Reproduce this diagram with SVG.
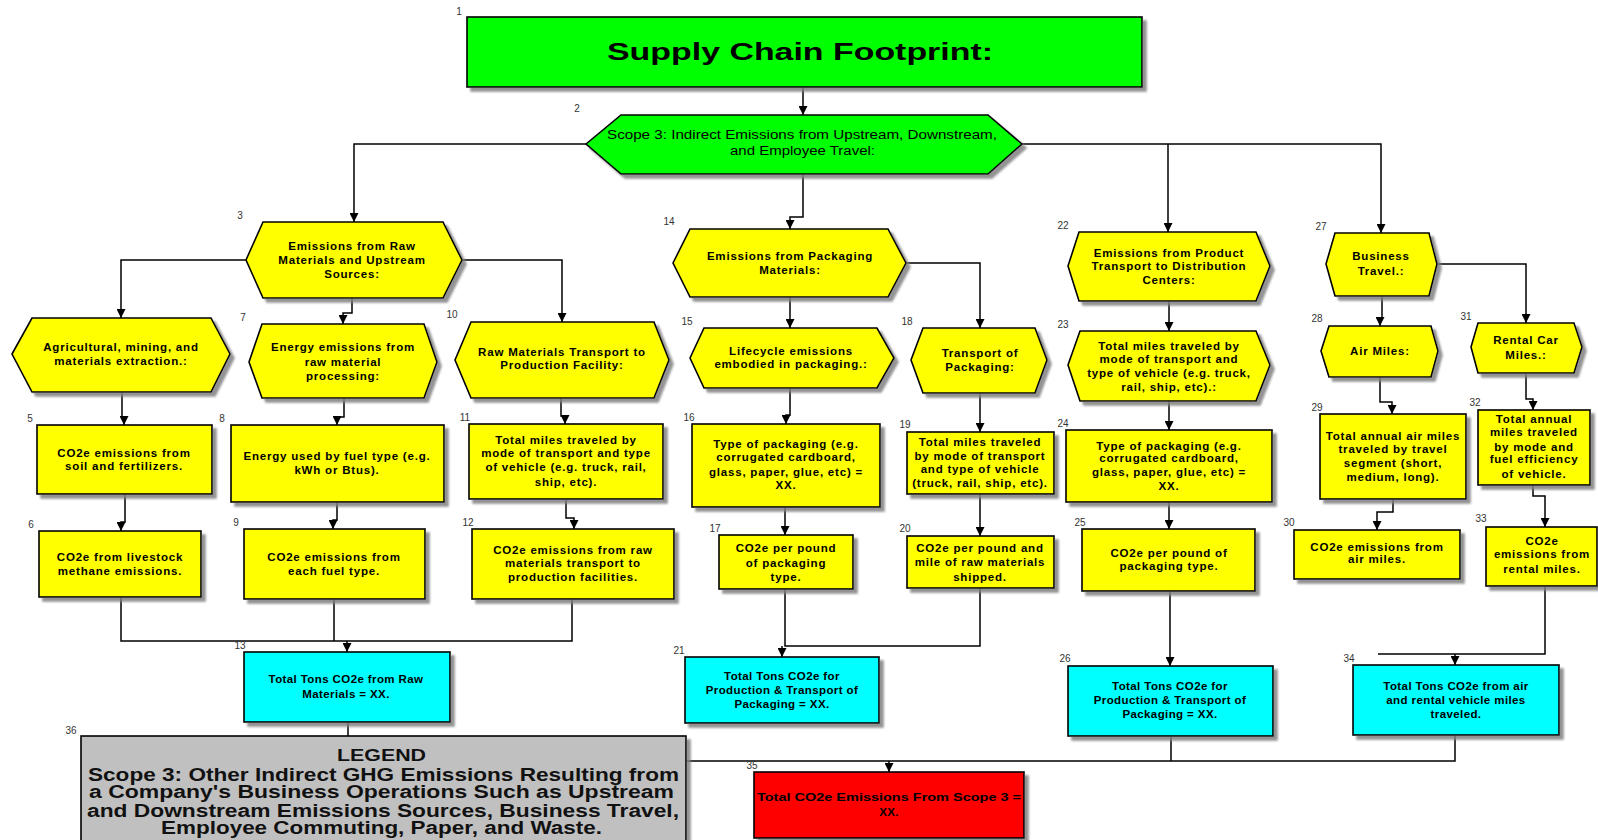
<svg xmlns="http://www.w3.org/2000/svg" width="1598" height="840" viewBox="0 0 1598 840">
<defs>
<filter id="ds" x="-5%" y="-5%" width="115%" height="125%">
<feDropShadow dx="4" dy="4" stdDeviation="0.8" flood-color="#808080" flood-opacity="0.85"/>
</filter>
<marker id="ar" viewBox="0 0 10 10" refX="10" refY="5" markerWidth="9" markerHeight="9" markerUnits="userSpaceOnUse" orient="auto">
<path d="M0,0 L10,5 L0,10 z" fill="#000"/>
</marker>
<style>
.s{stroke:#000;stroke-width:1.6;filter:url(#ds)}
.y{fill:#ffff00}
.g{fill:#00ff00}
.c{fill:#00ffff}
.r{fill:#ff0000}
.gr{fill:#c0c0c0}
.t{font-family:"Liberation Sans",Arial,sans-serif;font-size:11.5px;font-weight:bold;text-anchor:middle;letter-spacing:0.8px;fill:#000}
.tc{font-family:"Liberation Sans",Arial,sans-serif;font-size:11.5px;font-weight:bold;text-anchor:middle;letter-spacing:0.4px;fill:#000}
.lb{font-family:"Liberation Sans",Arial,sans-serif;font-size:10px;text-anchor:middle;fill:#333}
.ttl{font-family:"Liberation Sans",Arial,sans-serif;font-size:24px;font-weight:bold;fill:#000}
.s2{font-family:"Liberation Sans",Arial,sans-serif;font-size:12.5px;fill:#000}
.lg{font-family:"Liberation Sans",Arial,sans-serif;font-size:17.5px;font-weight:bold;fill:#111}
.e{fill:none;stroke:#000;stroke-width:1.5}
.ea{fill:none;stroke:#000;stroke-width:1.5;marker-end:url(#ar)}
</style>
</defs>
<rect width="1598" height="840" fill="#fff"/>

<g id="connectors">
<polyline class="ea" points="803,87 803,115"/>
<polyline class="ea" points="586,144 354,144 354,222"/>
<polyline class="ea" points="803,174 803,217 790,217 790,229"/>
<polyline class="ea" points="1022,144 1381,144 1381,233"/>
<polyline class="ea" points="1168,144 1168,232"/>
<polyline class="ea" points="246,260 121,260 121,318"/>
<polyline class="ea" points="352,298 352,313 343,313 343,324"/>
<polyline class="ea" points="462,260 562,260 562,322"/>
<polyline class="ea" points="122,392 122,418 124,418 124,425"/>
<polyline class="ea" points="125,494 125,522 121,522 121,531"/>
<polyline class="ea" points="344,398 344,417 337,417 337,425"/>
<polyline class="ea" points="337,502 337,520 333,520 333,529"/>
<polyline class="ea" points="561,398 561,416 565,416 565,424"/>
<polyline class="ea" points="566,499 566,518 574,518 574,529"/>
<polyline class="e" points="121,597 121,641 572,641 572,599"/>
<polyline class="e" points="334,599 334,641"/>
<polyline class="ea" points="347,641 347,652"/>
<polyline class="e" points="348,722 348,736"/>
<polyline class="ea" points="790,297 790,328"/>
<polyline class="ea" points="906,263 980,263 980,328"/>
<polyline class="ea" points="790,388 790,415 786,415 786,424"/>
<polyline class="ea" points="785,507 785,535"/>
<polyline class="ea" points="980,393 980,432"/>
<polyline class="ea" points="980,494 980,536"/>
<polyline class="e" points="785,589 785,646 980,646 980,588"/>
<polyline class="ea" points="782,646 782,657"/>
<polyline class="ea" points="1169,301 1169,331"/>
<polyline class="ea" points="1169,401 1169,430"/>
<polyline class="ea" points="1169,502 1169,529"/>
<polyline class="ea" points="1170,591 1170,666"/>
<polyline class="ea" points="1437,264 1526,264 1526,323"/>
<polyline class="ea" points="1382,296 1382,318 1380,318 1380,326"/>
<polyline class="ea" points="1380,377 1380,402 1392,402 1392,414"/>
<polyline class="ea" points="1393,499 1393,512 1377,512 1377,530"/>
<polyline class="ea" points="1526,373 1526,399 1533,399 1533,410"/>
<polyline class="ea" points="1533,485 1533,496 1545,496 1545,527"/>
<polyline class="e" points="1545,586 1545,654 1378,654"/>
<polyline class="ea" points="1455,654 1455,665"/>
<polyline class="e" points="686,761 1455,761 1455,735"/>
<polyline class="e" points="1171,736 1171,761"/>
<polyline class="ea" points="889,761 889,772"/>
</g>

<g id="n1">
<rect class="s g" x="467" y="17" width="675" height="70"/>
<text class="lb" x="459" y="15">1</text>
<text class="ttl" x="607" y="60" textLength="386" lengthAdjust="spacingAndGlyphs">Supply  Chain  Footprint:</text>
</g>
<g id="n2">
<polygon class="s g" points="586,144 621,115 988,115 1022,144 988,174 621,174"/>
<text class="lb" x="577" y="112">2</text>
<text class="s2" x="607" y="139" textLength="390" lengthAdjust="spacingAndGlyphs">Scope 3: Indirect Emissions from  Upstream, Downstream,</text>
<text class="s2" x="730" y="155" textLength="145" lengthAdjust="spacingAndGlyphs">and Employee Travel:</text>
</g>
<g id="n3">
<polygon class="s y" points="246,260 263,222 443,222 462,260 443,298 263,298"/>
<text class="lb" x="240" y="219">3</text>
<text class="t" x="352" y="250">Emissions from  Raw</text>
<text class="t" x="352" y="264">Materials and Upstream</text>
<text class="t" x="352" y="278">Sources:</text>
</g>
<g id="n4">
<polygon class="s y" points="12,354 32,318 211,318 230,354 211,392 32,392"/>
<text class="t" x="121" y="351">Agricultural,  mining, and</text>
<text class="t" x="121" y="365">materials extraction.:</text>
</g>
<g id="n5">
<rect class="s y" x="37" y="425" width="175" height="69"/>
<text class="lb" x="30" y="422">5</text>
<text class="t" x="124" y="457">CO2e emissions  from</text>
<text class="t" x="124" y="470">soil and fertilizers.</text>
</g>
<g id="n6">
<rect class="s y" x="39" y="531" width="162" height="66"/>
<text class="lb" x="31" y="528">6</text>
<text class="t" x="120" y="561">CO2e from livestock</text>
<text class="t" x="120" y="575">methane emissions.</text>
</g>
<g id="n7">
<polygon class="s y" points="249,362 262,324 424,324 437,362 424,398 262,398"/>
<text class="lb" x="243" y="321">7</text>
<text class="t" x="343" y="351">Energy emissions  from</text>
<text class="t" x="343" y="366">raw  material</text>
<text class="t" x="343" y="380">processing:</text>
</g>
<g id="n8">
<rect class="s y" x="231" y="425" width="213" height="77"/>
<text class="lb" x="222" y="422">8</text>
<text class="t" x="337" y="460">Energy used by fuel type (e.g.</text>
<text class="t" x="337" y="474">kWh or Btus).</text>
</g>
<g id="n9">
<rect class="s y" x="244" y="529" width="181" height="70"/>
<text class="lb" x="236" y="526">9</text>
<text class="t" x="334" y="561">CO2e emissions  from</text>
<text class="t" x="334" y="575">each  fuel  type.</text>
</g>
<g id="n10">
<polygon class="s y" points="455,360 471,322 654,322 669,360 654,398 471,398"/>
<text class="lb" x="452" y="318">10</text>
<text class="t" x="562" y="356">Raw  Materials Transport  to</text>
<text class="t" x="562" y="369">Production  Facility:</text>
</g>
<g id="n11">
<rect class="s y" x="469" y="424" width="194" height="75"/>
<text class="lb" x="465" y="421">11</text>
<text class="t" x="566" y="444">Total miles traveled  by</text>
<text class="t" x="566" y="457">mode of transport  and type</text>
<text class="t" x="566" y="471">of vehicle (e.g. truck, rail,</text>
<text class="t" x="566" y="486">ship, etc).</text>
</g>
<g id="n12">
<rect class="s y" x="472" y="529" width="202" height="70"/>
<text class="lb" x="468" y="526">12</text>
<text class="t" x="573" y="554">CO2e emissions  from  raw</text>
<text class="t" x="573" y="567">materials transport  to</text>
<text class="t" x="573" y="581">production  facilities.</text>
</g>
<g id="n13">
<rect class="s c" x="244" y="652" width="206" height="70"/>
<text class="lb" x="240" y="649">13</text>
<text class="tc" x="346" y="683">Total Tons CO2e from  Raw</text>
<text class="tc" x="346" y="698">Materials = XX.</text>
</g>
<g id="n14">
<polygon class="s y" points="673,263 690,229 888,229 906,263 888,297 690,297"/>
<text class="lb" x="669" y="225">14</text>
<text class="t" x="790" y="260">Emissions from  Packaging</text>
<text class="t" x="790" y="274">Materials:</text>
</g>
<g id="n15">
<polygon class="s y" points="690,358 704,328 877,328 894,358 877,388 704,388"/>
<text class="lb" x="687" y="325">15</text>
<text class="t" x="791" y="355">Lifecycle  emissions</text>
<text class="t" x="791" y="368">embodied in packaging.:</text>
</g>
<g id="n16">
<rect class="s y" x="692" y="424" width="188" height="83"/>
<text class="lb" x="689" y="421">16</text>
<text class="t" x="786" y="448">Type  of  packaging (e.g.</text>
<text class="t" x="786" y="461">corrugated  cardboard,</text>
<text class="t" x="786" y="476">glass,  paper,  glue,  etc) =</text>
<text class="t" x="786" y="489">XX.</text>
</g>
<g id="n17">
<rect class="s y" x="719" y="535" width="134" height="54"/>
<text class="lb" x="715" y="532">17</text>
<text class="t" x="786" y="552">CO2e per pound</text>
<text class="t" x="786" y="567">of packaging</text>
<text class="t" x="786" y="581">type.</text>
</g>
<g id="n18">
<polygon class="s y" points="911,360 923,328 1035,328 1047,360 1035,393 923,393"/>
<text class="lb" x="907" y="325">18</text>
<text class="t" x="980" y="357">Transport  of</text>
<text class="t" x="980" y="371">Packaging:</text>
</g>
<g id="n19">
<rect class="s y" x="907" y="432" width="147" height="62"/>
<text class="lb" x="905" y="428">19</text>
<text class="t" x="980" y="446">Total miles traveled</text>
<text class="t" x="980" y="460">by mode of transport</text>
<text class="t" x="980" y="473">and type of vehicle</text>
<text class="t" x="980" y="487">(truck, rail, ship, etc).</text>
</g>
<g id="n20">
<rect class="s y" x="907" y="536" width="147" height="52"/>
<text class="lb" x="905" y="532">20</text>
<text class="t" x="980" y="552">CO2e per pound and</text>
<text class="t" x="980" y="566">mile of raw materials</text>
<text class="t" x="980" y="581">shipped.</text>
</g>
<g id="n21">
<rect class="s c" x="685" y="657" width="194" height="66"/>
<text class="lb" x="679" y="654">21</text>
<text class="tc" x="782" y="680">Total Tons CO2e for</text>
<text class="tc" x="782" y="694">Production &amp; Transport  of</text>
<text class="tc" x="782" y="708">Packaging = XX.</text>
</g>
<g id="n22">
<polygon class="s y" points="1068,266 1079,232 1256,232 1270,266 1256,301 1079,301"/>
<text class="lb" x="1063" y="229">22</text>
<text class="t" x="1169" y="257">Emissions from  Product</text>
<text class="t" x="1169" y="270">Transport  to  Distribution</text>
<text class="t" x="1169" y="284">Centers:</text>
</g>
<g id="n23">
<polygon class="s y" points="1068,365 1080,331 1256,331 1270,365 1256,401 1080,401"/>
<text class="lb" x="1063" y="328">23</text>
<text class="t" x="1169" y="350">Total miles traveled  by</text>
<text class="t" x="1169" y="363">mode of transport  and</text>
<text class="t" x="1169" y="377">type of vehicle (e.g. truck,</text>
<text class="t" x="1169" y="391">rail, ship, etc).:</text>
</g>
<g id="n24">
<rect class="s y" x="1066" y="430" width="206" height="72"/>
<text class="lb" x="1063" y="427">24</text>
<text class="t" x="1169" y="450">Type  of  packaging (e.g.</text>
<text class="t" x="1169" y="462">corrugated  cardboard,</text>
<text class="t" x="1169" y="476">glass,  paper,  glue,  etc) =</text>
<text class="t" x="1169" y="490">XX.</text>
</g>
<g id="n25">
<rect class="s y" x="1082" y="529" width="173" height="62"/>
<text class="lb" x="1080" y="526">25</text>
<text class="t" x="1169" y="557">CO2e per pound of</text>
<text class="t" x="1169" y="570">packaging type.</text>
</g>
<g id="n26">
<rect class="s c" x="1068" y="666" width="205" height="70"/>
<text class="lb" x="1065" y="662">26</text>
<text class="tc" x="1170" y="690">Total Tons CO2e for</text>
<text class="tc" x="1170" y="704">Production &amp; Transport of</text>
<text class="tc" x="1170" y="718">Packaging = XX.</text>
</g>
<g id="n27">
<polygon class="s y" points="1326,264 1335,233 1429,233 1437,264 1429,296 1335,296"/>
<text class="lb" x="1321" y="230">27</text>
<text class="t" x="1381" y="260">Business</text>
<text class="t" x="1381" y="275">Travel.:</text>
</g>
<g id="n28">
<polygon class="s y" points="1321,351 1329,326 1431,326 1438,351 1431,377 1329,377"/>
<text class="lb" x="1317" y="322">28</text>
<text class="t" x="1380" y="355">Air  Miles:</text>
</g>
<g id="n29">
<rect class="s y" x="1320" y="414" width="146" height="85"/>
<text class="lb" x="1317" y="411">29</text>
<text class="t" x="1393" y="440">Total annual air miles</text>
<text class="t" x="1393" y="453">traveled  by  travel</text>
<text class="t" x="1393" y="467">segment  (short,</text>
<text class="t" x="1393" y="481">medium, long).</text>
</g>
<g id="n30">
<rect class="s y" x="1294" y="530" width="166" height="49"/>
<text class="lb" x="1289" y="526">30</text>
<text class="t" x="1377" y="551">CO2e emissions  from</text>
<text class="t" x="1377" y="563">air miles.</text>
</g>
<g id="n31">
<polygon class="s y" points="1471,347 1478,323 1574,323 1582,347 1574,373 1478,373"/>
<text class="lb" x="1466" y="320">31</text>
<text class="t" x="1526" y="344">Rental Car</text>
<text class="t" x="1526" y="359">Miles.:</text>
</g>
<g id="n32">
<rect class="s y" x="1478" y="410" width="112" height="75"/>
<text class="lb" x="1475" y="406">32</text>
<text class="t" x="1534" y="423">Total annual</text>
<text class="t" x="1534" y="436">miles traveled</text>
<text class="t" x="1534" y="451">by mode and</text>
<text class="t" x="1534" y="463">fuel efficiency</text>
<text class="t" x="1534" y="478">of vehicle.</text>
</g>
<g id="n33">
<rect class="s y" x="1486" y="527" width="111" height="59"/>
<text class="lb" x="1481" y="522">33</text>
<text class="t" x="1542" y="545">CO2e</text>
<text class="t" x="1542" y="558">emissions from</text>
<text class="t" x="1542" y="573">rental miles.</text>
</g>
<g id="n34">
<rect class="s c" x="1353" y="665" width="206" height="70"/>
<text class="lb" x="1349" y="662">34</text>
<text class="tc" x="1456" y="690">Total Tons CO2e from air</text>
<text class="tc" x="1456" y="704">and rental vehicle miles</text>
<text class="tc" x="1456" y="718">traveled.</text>
</g>
<g id="n35">
<rect class="s r" x="754" y="772" width="270" height="66"/>
<text class="lb" x="752" y="769">35</text>
<text class="tc" x="757" y="801" style="text-anchor:start;letter-spacing:0" textLength="264" lengthAdjust="spacingAndGlyphs">Total CO2e Emissions From Scope 3 =</text>
<text class="tc" x="889" y="816">XX.</text>
</g>
<g id="n36">
<rect class="s gr" x="81" y="736" width="605" height="120"/>
<text class="lb" x="71" y="734">36</text>
<text class="lg" x="337" y="761" style="font-size:16px" textLength="89" lengthAdjust="spacingAndGlyphs">LEGEND</text>
<text class="lg" x="88" y="781" textLength="591" lengthAdjust="spacingAndGlyphs">Scope 3: Other Indirect GHG Emissions Resulting from</text>
<text class="lg" x="89" y="798" textLength="585" lengthAdjust="spacingAndGlyphs">a Company's  Business  Operations  Such  as Upstream</text>
<text class="lg" x="87" y="817" textLength="592" lengthAdjust="spacingAndGlyphs">and Downstream  Emissions  Sources, Business Travel,</text>
<text class="lg" x="161" y="834" textLength="441" lengthAdjust="spacingAndGlyphs">Employee  Commuting,  Paper, and Waste.</text>
</g>
</svg>
